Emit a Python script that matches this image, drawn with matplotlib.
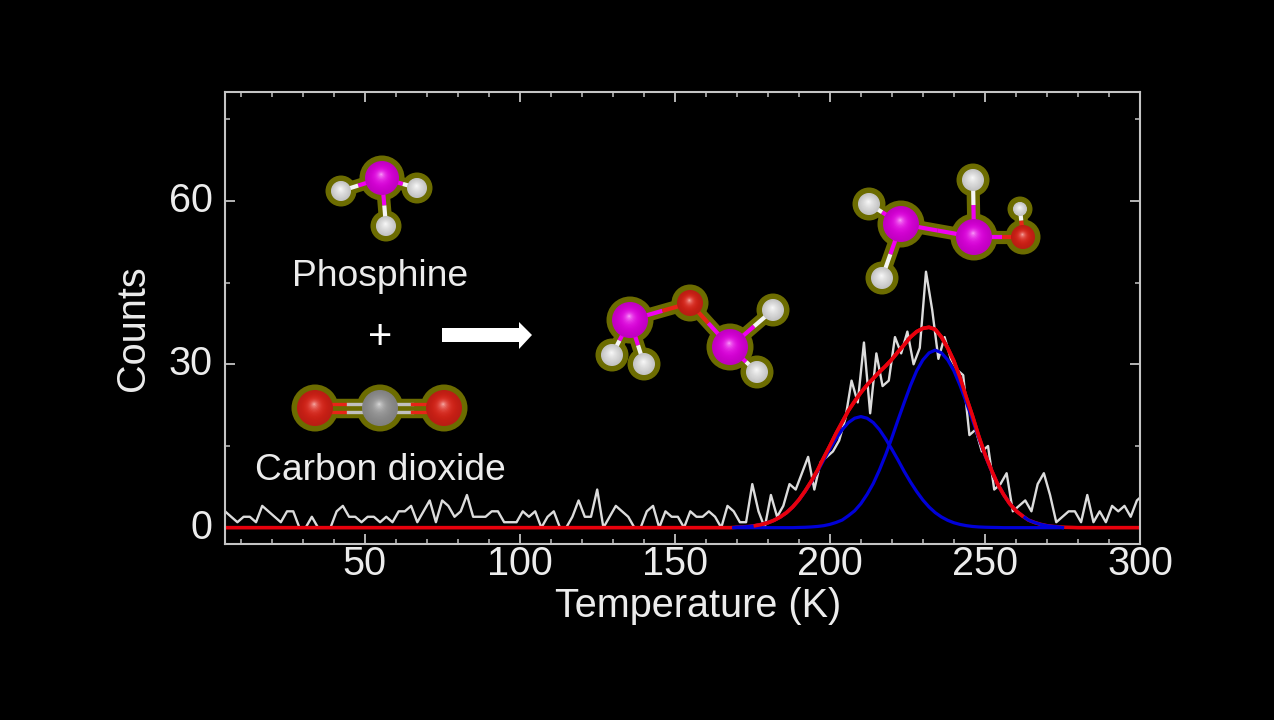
import numpy as np
import matplotlib
matplotlib.use('Agg')
import matplotlib.pyplot as plt
from matplotlib.patches import Circle, Polygon
from matplotlib.colors import to_rgb
from matplotlib.transforms import ScaledTranslation

plt.rcParams['font.family'] = ['Liberation Sans', 'DejaVu Sans']

# measured counts, one value every 2 K from 5 K on
temps = np.arange(5, 303, 2)
counts = [3, 2, 1, 2, 2, 1, 4, 3, 2, 1, 3, 3, 0, 0, 2, 0, 0, 0, 3, 4,
          2, 2, 1, 2, 2, 1, 2, 1, 3, 3, 4, 1, 3, 5, 1, 5, 4, 2, 3, 6,
          2, 2, 2, 3, 3, 1, 1, 1, 3, 2, 3, 0, 2, 3, 0, 0, 2, 5, 2, 2,
          7, 0, 2, 4, 3, 2, 0, 0, 3, 4, 0, 3, 2, 2, 0, 3, 2,
          2, 3, 2, 0, 4, 3, 1, 1, 8, 3, 0, 6, 2, 4, 8, 7, 10, 13, 7, 12,
          13, 14, 16, 20, 27, 23, 34, 21, 32, 26, 27, 35, 32, 36, 30, 33, 47, 40, 31, 35,
          31, 29, 28, 17, 18, 14, 15, 7, 8, 10, 3, 4, 5, 3, 8, 10, 6, 1, 2, 3,
          3, 1, 6, 1, 3, 1, 4, 3, 4, 2, 5, 6]

# fit curves
peak1_t = [170, 172, 174, 176, 178, 180, 182, 184, 186, 188, 190, 192, 194, 196, 198, 200, 202, 204, 206, 208,
           210, 212, 214, 216, 218, 220, 222, 224, 226, 228, 230, 232, 234, 236, 238, 240, 242, 244, 246, 248, 250,
           252, 254, 256, 275]
peak1 = [.08, .13, .22, .37, .59, .9, 1.35, 1.96, 2.75, 3.79, 5.08, 6.63, 8.38, 10.3, 12.4, 14.4, 16.3, 18, 19.3, 20.1,
         20.4, 20.1, 19.3, 18, 16.3, 14.4, 12.4, 10.3, 8.38, 6.63, 5.08, 3.79, 2.75, 1.96, 1.35, .9, .59, .37, .22, .13, .08,
         .05, .03, 0, 0]
peak2_t = [169, 188, 190, 192, 194, 196, 198, 200, 202, 204, 206, 208, 210, 212, 214, 216, 218, 220, 222, 224, 226, 228, 230,
           232, 234, 236, 238, 240, 242, 244, 246, 248, 250, 252, 254, 256, 258, 260, 262, 264, 266, 268, 270, 272, 274, 275]
peak2 = [0, 0, .04, .07, .13, .22, .36, .6, .95, 1.4, 2.2, 3.1, 4.4, 6.1, 8.1, 10.6, 13.4, 16.5, 19.8, 23, 26.1, 28.8, 30.8,
         32.1, 32.6, 32.1, 30.8, 28.8, 26.1, 23, 19.8, 16.5, 13.4, 10.6, 8.1, 6.1, 4.4, 3.1, 2.2, 1.4, .95, .6, .36, .22, .13, 0]
total_t = [5, 168, 170, 172, 174, 176, 178, 180, 182, 184, 186, 188, 190, 192, 194, 196, 198, 200, 202, 204, 206, 208,
           210, 212, 214, 216, 218, 220, 222, 224, 226, 228, 230, 232, 234, 236, 238, 240, 242, 244, 246, 248, 250,
           252, 254, 256, 258, 260, 262, 264, 266, 268, 270, 272, 274, 276, 278, 280, 300]
total = [0, 0, .08, .13, .22, .37, .59, .9, 1.35, 1.96, 2.75, 3.79, 5.1, 6.7, 8.5, 10.5, 12.8, 15, 17.3, 19.4, 21.5, 23.2,
         24.8, 26.2, 27.4, 28.6, 29.7, 30.9, 32.3, 33.6, 35, 36, 36.6, 36.8, 36.4, 35, 33, 30.6, 27.5, 23.9, 20.5, 16.8, 13.5,
         10.7, 8.1, 6.1, 4.4, 3.1, 2.2, 1.4, .95, .6, .36, .22, .13, .07, .04, 0, 0]

W, H = 1274, 720
AXCOL = '#c4c4c4'
TXT = '#ececec'
GLOW = '#6c6c00'
PINK = '#f000f0'
RED = '#e82418'
WHITE = '#f4f4f4'
GREY = '#a0a0a0'

fig = plt.figure(figsize=(W / 100, H / 100), dpi=100, facecolor='black')
ax = fig.add_axes([225 / W, 1 - 544 / H, 915 / W, 452 / H], facecolor='black')

ax.plot(temps, counts, color='#dcdcdc', lw=1.7)
ax.plot(total_t, total, color='#e8000c', lw=2.6)
ax.plot(peak1_t, peak1, color='#0000d8', lw=2.3)
ax.plot(peak2_t, peak2, color='#0000d8', lw=2.3)
# red runs over the blue where the curves lie together, blue keeps the baseline
ax.plot(total_t[5:49], total[5:49], color='#e8000c', lw=2.6)

ax.set_xlim(5, 300)
ax.set_ylim(-3, 80)
ax.set_xticks([50, 100, 150, 200, 250, 300])
ax.set_xticks(np.arange(10, 300, 10), minor=True)
ax.set_yticks([0, 30, 60])
ax.set_yticks([15, 45, 75], minor=True)
ax.tick_params(which='both', direction='in', top=True, right=True, color=AXCOL,
               labelcolor=TXT, labelsize=28.5)
ax.tick_params(which='major', length=7.5, width=1.3)
ax.tick_params(which='minor', length=3.5, width=1.1)
ax.tick_params(axis='x', which='major', pad=1)
ax.tick_params(axis='y', which='major', pad=9)
# y numbers sit a little above their ticks
for tick in ax.yaxis.get_major_ticks():
    tick.label1.set_transform(tick.label1.get_transform() + ScaledTranslation(0, 4 / 100, fig.dpi_scale_trans))
for s in ax.spines.values():
    s.set_color(AXCOL)
    s.set_linewidth(1.5)
ax.set_xlabel('Temperature (K)', color=TXT, fontsize=28.5)
ax.set_ylabel('Counts', color=TXT, fontsize=28.5)
ax.xaxis.set_label_coords(473 / 915, -62 / 452, transform=ax.transAxes)
ax.yaxis.set_label_coords(-92 / 915, 216 / 452, transform=ax.transAxes)
ax.xaxis.label.set_va('center')
ax.yaxis.label.set_va('center')

# overlay in picture pixels for the molecule drawings
ov = fig.add_axes([0, 0, 1, 1])
ov.set_xlim(0, W)
ov.set_ylim(H, 0)
ov.axis('off')
ov.patch.set_alpha(0)


def ball(x, y, r, col):
    ov.add_patch(Circle((x, y), r + 5.5, color=GLOW, lw=0, zorder=2))
    base = np.array(to_rgb(col))
    for f in np.linspace(1, 0.05, 16):
        tone = base * (0.8 + 0.2 * (1 - f)) + (1 - base) * (1 - f) ** 4 * 0.7
        cx = x - (1 - f) * r * 0.05
        cy = y - (1 - f) * r * 0.22
        ov.add_patch(Circle((cx, cy), r * f, color=tuple(np.clip(tone, 0, 1)), lw=0, zorder=4))


def molecule(atoms, bonds):
    for i, j in bonds:
        x1, y1, r1, c1 = atoms[i]
        x2, y2, r2, c2 = atoms[j]
        ov.plot([x1, x2], [y1, y2], color=GLOW, lw=9.5, solid_capstyle='round', zorder=1)
        # colour changes halfway across the gap between the two balls
        d = np.hypot(x2 - x1, y2 - y1)
        t = (r1 + (d - r1 - r2) / 2) / d
        mx, my = x1 + (x2 - x1) * t, y1 + (y2 - y1) * t
        ov.plot([x1, mx], [y1, my], color=c1, lw=3, solid_capstyle='butt', zorder=3)
        ov.plot([mx, x2], [my, y2], color=c2, lw=3, solid_capstyle='butt', zorder=3)
    for x, y, r, col in atoms:
        ball(x, y, r, col)


# phosphine
molecule([(382, 178, 17, PINK), (341, 191, 10, WHITE), (417, 188, 10, WHITE), (386, 226, 10, WHITE)],
         [(0, 1), (0, 2), (0, 3)])
# products
molecule([(630, 320, 18, PINK), (690, 303, 13, RED), (730, 347, 18, PINK), (612, 355, 11, WHITE),
          (644, 364, 11, WHITE), (773, 310, 11, WHITE), (757, 372, 11, WHITE)],
         [(0, 1), (1, 2), (0, 3), (0, 4), (2, 5), (2, 6)])
molecule([(901, 224, 18, PINK), (974, 237, 18, PINK), (1023, 237, 12, RED), (869, 204, 11, WHITE),
          (882, 278, 11, WHITE), (973, 180, 11, WHITE), (1020, 209, 7, WHITE)],
         [(0, 1), (1, 2), (0, 3), (0, 4), (1, 5), (2, 6)])
# carbon dioxide, double bonds
co2 = [(315, 408, 18, RED), (380, 408, 18, GREY), (444, 408, 18, RED)]
ov.plot([315, 444], [408, 408], color=GLOW, lw=14, solid_capstyle='round', zorder=1)
for off in (-4, 4):
    ov.plot([315, 348], [408 + off] * 2, color=RED, lw=2.4, zorder=3)
    ov.plot([348, 412], [408 + off] * 2, color='#c0c0c0', lw=2.4, zorder=3)
    ov.plot([412, 444], [408 + off] * 2, color=RED, lw=2.4, zorder=3)
for x, y, r, col in co2:
    ball(x, y, r, col)

# reaction arrow
ov.add_patch(Polygon([(442, 328), (519, 328), (519, 322), (532, 335), (519, 349), (519, 342), (442, 342)],
                     closed=True, color='white', lw=0, zorder=4))

ov.text(380, 277, 'Phosphine', color=TXT, fontsize=26.8, ha='center', va='center')
ov.text(380, 338, '+', color='white', fontsize=30, ha='center', va='center')
ov.text(380, 471, 'Carbon dioxide', color=TXT, fontsize=26.8, ha='center', va='center')

fig.savefig('out.png', dpi=100, facecolor='black')
